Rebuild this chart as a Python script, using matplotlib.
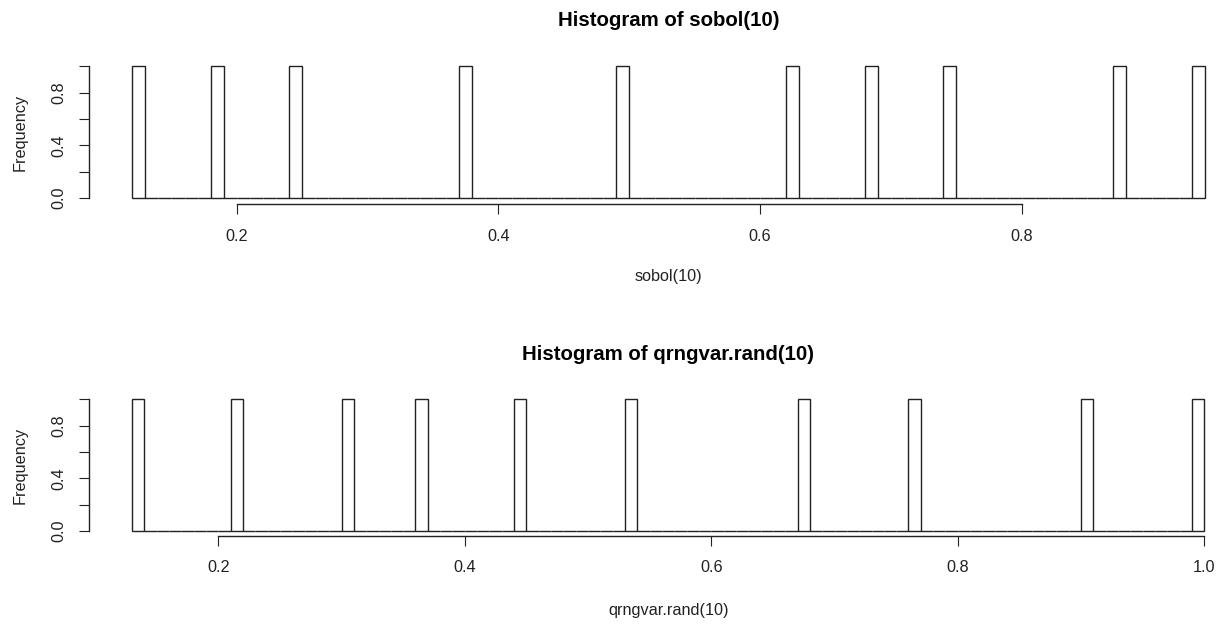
import numpy as np
import matplotlib
matplotlib.use("Agg")
import matplotlib.pyplot as plt

plt.rcParams['font.family'] = ['Liberation Sans', 'DejaVu Sans']

# Data
sobol_values = [0.5, 0.75, 0.25, 0.375, 0.875, 0.625, 0.125, 0.1875, 0.6875, 0.9375]
sobol_breaks = np.round(np.arange(0.12, 0.9401, 0.01), 2)
sobol_xticks = [0.2, 0.4, 0.6, 0.8]

qrng_values = [0.135, 0.215, 0.305, 0.365, 0.445, 0.535, 0.675, 0.765, 0.905, 0.995]
qrng_breaks = np.round(np.arange(0.13, 1.0001, 0.01), 2)
qrng_xticks = [0.2, 0.4, 0.6, 0.8, 1.0]

yticks = [0.0, 0.2, 0.4, 0.6, 0.8, 1.0]
ytick_labels = ["0.0", "", "0.4", "", "0.8", ""]

W, H = 1227, 624
fig = plt.figure(figsize=(W / 100, H / 100), dpi=100)

def px_rect(left, right, top, bottom):
    return [left / W, 1 - bottom / H, (right - left) / W, (bottom - top) / H]

def r_hist(ax, values, breaks, xticks, title, xlabel, title_off, xlab_off, xpad):
    values = np.asarray(values)
    idx = np.searchsorted(breaks, values, side='left') - 1
    idx = np.clip(idx, 0, len(breaks) - 2)
    counts = np.bincount(idx, minlength=len(breaks) - 1)
    width = breaks[1] - breaks[0]
    ax.bar(breaks[:-1], counts, width=width, align='edge', color='white',
           edgecolor='#222222', linewidth=1.0)
    lo, hi = breaks[0], breaks[-1]
    ext = 0.04 * (hi - lo)
    ax.set_xlim(lo - ext, hi + ext)
    ax.set_ylim(-0.04, 1.04)
    for s in ['top', 'right']:
        ax.spines[s].set_visible(False)
    ax.spines['left'].set_bounds(0, 1)
    ax.spines['bottom'].set_bounds(xticks[0], xticks[-1])
    for s in ['left', 'bottom']:
        ax.spines[s].set_linewidth(1.0)
        ax.spines[s].set_color('#222222')
    ax.set_xticks(xticks)
    ax.set_xticklabels([f"{t:.1f}" for t in xticks])
    ax.set_yticks(yticks)
    ax.set_yticklabels(ytick_labels, rotation=90, va='center')
    ax.tick_params(axis='both', direction='out', length=7.2, width=0.8,
                   labelsize=11.7, colors='#222222')
    ax.tick_params(axis='x', pad=xpad)
    ax.tick_params(axis='y', pad=9)
    ax.set_xlabel(xlabel, fontsize=11.7, va='center', color='#222222')
    ax.xaxis.set_label_coords(0.5, xlab_off)
    ax.set_ylabel("Frequency", fontsize=11.7, va='center', color='#222222')
    ax.yaxis.set_label_coords(-0.0598, 0.5)
    ax.text(0.5, title_off, title, transform=ax.transAxes, ha='center',
            va='center', fontsize=14.7, fontweight='bold', color='black')
    ax.patch.set_visible(False)

ax1 = fig.add_axes(px_rect(89.3, 1247.7, 61.0, 203.5))
r_hist(ax1, sobol_values, sobol_breaks, sobol_xticks,
       "Histogram of sobol(10)", "sobol(10)", 1 + (61 - 20) / 142.5,
       -(276.7 - 203.5) / 142.5, 11)

ax2 = fig.add_axes(px_rect(89.1, 1247.2, 394.0, 536.3))
r_hist(ax2, qrng_values, qrng_breaks, qrng_xticks,
       "Histogram of qrngvar.rand(10)", "qrngvar.rand(10)", 1 + (394 - 355) / 142.3,
       -(610 - 536.3) / 142.3, 10)

fig.savefig("out.png", dpi=100)
